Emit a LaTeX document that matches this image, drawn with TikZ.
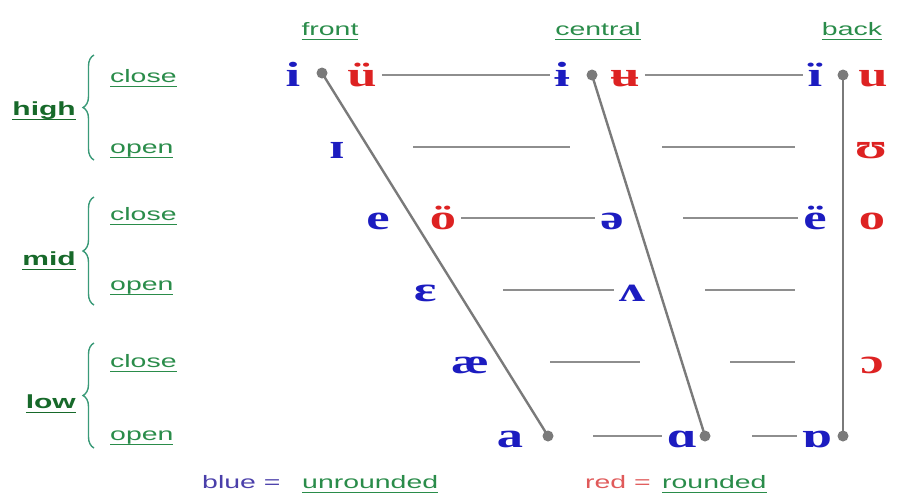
\documentclass[tikz,border=0pt]{standalone}
\usepackage{fontspec}
\newfontfamily\ipafont{Liberation Serif}[FakeStretch=1.5]
\newfontfamily\lblfont{Liberation Sans}[FakeStretch=1.58]
\usetikzlibrary{decorations.pathreplacing}
\definecolor{vwlblue}{HTML}{1C1CC0}
\definecolor{vwlred}{HTML}{DD2222}
\definecolor{lblgreen}{HTML}{2A8C4A}
\definecolor{lbldark}{HTML}{17692A}
\definecolor{bracegreen}{HTML}{3A9A78}
\definecolor{tonguegray}{HTML}{7A7A7A}
\definecolor{gridgray}{HTML}{8E8E8E}
\definecolor{keyblue}{HTML}{4A3FAA}
\definecolor{keyred}{HTML}{E05A5A}
% underline a label with a rule at a fixed depth
\newcommand\undl[1]{\setbox0\hbox{#1}\rlap{\rule[-5pt]{\wd0}{1.5pt}}\box0}
\tikzset{
  vwl/.style={font=\ipafont\bfseries\fontsize{35}{35}\selectfont, text height=22pt, text depth=0pt,
    inner xsep=5pt, inner ysep=3pt},
  unr/.style={vwl, text=vwlblue},
  rnd/.style={vwl, text=vwlred},
  colhead/.style={font=\lblfont\fontsize{18}{18}\selectfont, text=lblgreen, anchor=base, inner sep=0pt},
  sublbl/.style={colhead, anchor=base west},
  heightlbl/.style={font=\lblfont\bfseries\fontsize{19}{19}\selectfont, text=lbldark, anchor=base east, inner sep=0pt},
  grid/.style={gridgray, line width=1.4pt},
  tongue/.style={tonguegray, line width=2.4pt},
  hgtbrace/.style={bracegreen, line width=1.4pt, decorate, decoration={brace, amplitude=11pt}},
}

\begin{document}
\begin{tikzpicture}[x=1pt, y=1pt]
  \useasboundingbox (0,0) rectangle (897,-498);
  % column heads
  \node[colhead] (front) at (330,-35) {\undl{front}};
  \node[colhead] (central) at (598,-35) {\undl{central}};
  \node[colhead] (back) at (852,-35) {\undl{back}};
  % tongue height labels
  \node[heightlbl] (high) at (76,-115) {\undl{high}};
  \node[heightlbl] (mid) at (76,-265) {\undl{mid}};
  \node[heightlbl] (low) at (76,-408) {\undl{low}};
  \node[sublbl] (hclose) at (110,-82) {\undl{close}};
  \node[sublbl] (hopen) at (110,-153) {\undl{open}};
  \node[sublbl] (mclose) at (110,-220) {\undl{close}};
  \node[sublbl] (mopen) at (110,-290) {\undl{open}};
  \node[sublbl] (lclose) at (110,-367) {\undl{close}};
  \node[sublbl] (lopen) at (110,-440) {\undl{open}};
  \draw[hgtbrace] (94,-160) -- (94,-55);
  \draw[hgtbrace] (94,-305) -- (94,-197);
  \draw[hgtbrace] (94,-448) -- (94,-343);

  % vowels
  \node[unr] (i) at (293,-75) {i};
  \node[rnd] (uuml) at (362,-75) {ü};
  \node[unr] (ibar) at (562,-75) {ɨ};
  \node[rnd] (ubar) at (625,-75) {ʉ};
  \node[unr] (iuml) at (815,-75) {ï};
  \node[rnd] (u) at (873,-75) {u};
  \node[unr] (smallcapi) at (337,-147) {ɪ};
  \node[rnd] (upsilon) at (871,-147) {ʊ};
  \node[unr] (e) at (378,-218) {e};
  \node[rnd] (ouml) at (443,-218) {ö};
  \node[unr] (schwa) at (612,-218) {ə};
  \node[unr] (euml) at (815,-218) {ë};
  \node[rnd] (o) at (872,-218) {o};
  \node[unr] (epsilon) at (425,-290) {ɛ};
  \node[unr] (wedge) at (632,-290) {ʌ};
  \node[unr] (ash) at (470,-362) {æ};
  \node[rnd] (openo) at (872,-362) {ɔ};
  \node[unr] (a) at (510,-436) {a};
  \node[unr] (scripta) at (682,-436) {ɑ};
  \node[unr] (turneda) at (817,-436) {ɒ};

  % free ends of the row lines
  \coordinate (g2a) at (413,-147);
  \coordinate (g2b) at (570,-147);
  \coordinate (g2c) at (662,-147);
  \coordinate (g2d) at (795,-147);
  \coordinate (g3a) at (683,-218);
  \coordinate (g4a) at (503,-290);
  \coordinate (g4b) at (705,-290);
  \coordinate (g4c) at (795,-290);
  \coordinate (g5a) at (550,-362);
  \coordinate (g5b) at (640,-362);
  \coordinate (g5c) at (730,-362);
  \coordinate (g5d) at (795,-362);
  \coordinate (g6a) at (593,-436);
  \coordinate (g6b) at (752,-436);
  \draw[grid] (uuml) -- (ibar);
  \draw[grid] (ubar) -- (iuml);
  \draw[grid] (g2a) -- (g2b);
  \draw[grid] (g2c) -- (g2d);
  \draw[grid] (ouml) -- (schwa);
  \draw[grid] (g3a) -- (euml);
  \draw[grid] (g4a) -- (wedge);
  \draw[grid] (g4b) -- (g4c);
  \draw[grid] (g5a) -- (g5b);
  \draw[grid] (g5c) -- (g5d);
  \draw[grid] (g6a) -- (scripta);
  \draw[grid] (g6b) -- (turneda);

  % tongue positions
  \coordinate (dfront) at (322,-73);
  \coordinate (dcentral) at (592,-75);
  \coordinate (dback) at (843,-75);
  \coordinate (dlowfront) at (548,-436);
  \coordinate (dlowcentral) at (705,-436);
  \coordinate (dlowback) at (843,-436);
  \draw[tongue] (dfront) -- (dlowfront);
  \draw[tongue] (dcentral) -- (dlowcentral);
  \draw[tongue] (dback) -- (dlowback);
  \foreach \d in {dfront, dcentral, dback, dlowfront, dlowcentral, dlowback}
    \fill[tonguegray] (\d) circle (5.5);

  % key
  \node[sublbl] (bluekey) at (202,-488) {\textcolor{keyblue}{blue =}};
  \node[sublbl] (unrounded) at (302,-488) {\undl{unrounded}};
  \node[sublbl] (redkey) at (585,-488) {\textcolor{keyred}{red =}};
  \node[sublbl] (rounded) at (662,-488) {\undl{rounded}};
\end{tikzpicture}
\end{document}
